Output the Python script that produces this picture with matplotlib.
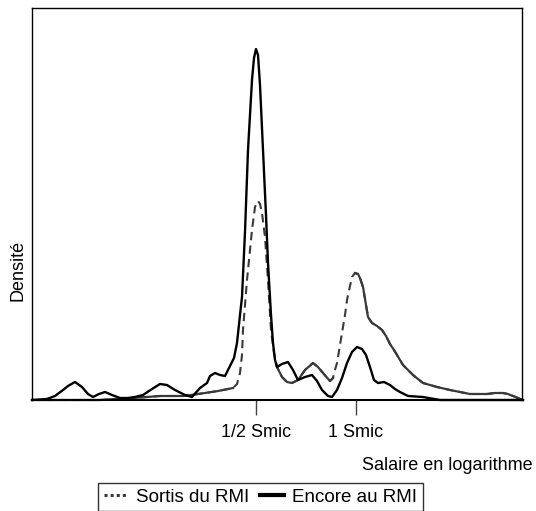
import numpy as np
import matplotlib.pyplot as plt
from matplotlib.lines import Line2D
from matplotlib.ticker import FixedLocator, NullFormatter

plt.rcParams['font.family'] = ['Liberation Sans', 'DejaVu Sans']

# x : log2(salaire / Smic), y : densité (unités arbitraires)
x_encore = [-3.24, -3.09, -3.01, -2.93, -2.88, -2.81, -2.74, -2.68, -2.63, -2.57,
            -2.51, -2.44, -2.36, -2.28, -2.21, -2.13, -2.04, -1.96, -1.89, -1.81,
            -1.71, -1.64, -1.56, -1.49, -1.46, -1.41, -1.36, -1.31, -1.26, -1.22,
            -1.19, -1.16, -1.14, -1.11, -1.08, -1.06, -1.04, -1.02, -1.00, -0.98,
            -0.96, -0.93, -0.90, -0.88, -0.85, -0.83, -0.81, -0.79, -0.74, -0.68,
            -0.63, -0.58, -0.51, -0.44, -0.39, -0.34, -0.28, -0.24, -0.19, -0.14,
            -0.09, -0.04, 0.01, 0.06, 0.10, 0.14, 0.18, 0.22, 0.28, 0.34,
            0.39, 0.44, 0.52, 0.67, 0.84, 1.67]
y_encore = [0.00, 0.01, 0.04, 0.10, 0.14, 0.18, 0.13, 0.06, 0.03, 0.06,
            0.08, 0.05, 0.02, 0.02, 0.03, 0.05, 0.11, 0.16, 0.15, 0.10,
            0.05, 0.03, 0.12, 0.17, 0.24, 0.27, 0.25, 0.24, 0.34, 0.42,
            0.57, 0.85, 1.03, 1.68, 2.50, 2.85, 3.20, 3.42, 3.51, 3.45,
            3.15, 2.50, 1.85, 1.37, 0.85, 0.57, 0.40, 0.33, 0.36, 0.38,
            0.30, 0.20, 0.23, 0.25, 0.19, 0.10, 0.04, 0.03, 0.10, 0.22,
            0.37, 0.48, 0.53, 0.51, 0.45, 0.33, 0.20, 0.17, 0.18, 0.15,
            0.11, 0.08, 0.04, 0.03, 0.00, 0.00]

x_sortis = [-3.24, -2.96, -2.56, -2.41, -2.23, -2.09, -1.96, -1.73, -1.58, -1.51,
            -1.38, -1.28, -1.23, -1.19, -1.16, -1.14, -1.13, -1.11, -1.09, -1.06,
            -1.04, -1.01, -0.98, -0.96, -0.94, -0.91, -0.88, -0.85, -0.82, -0.79,
            -0.74, -0.69, -0.64, -0.58, -0.51, -0.43, -0.38, -0.33, -0.26, -0.23,
            -0.21, -0.19, -0.16, -0.14, -0.11, -0.09, -0.06, -0.04, -0.01, 0.02,
            0.04, 0.07, 0.10, 0.12, 0.16, 0.21, 0.26, 0.30, 0.34, 0.38,
            0.41, 0.47, 0.52, 0.57, 0.62, 0.67, 0.74, 0.81, 0.94, 1.04,
            1.14, 1.31, 1.39, 1.47, 1.52, 1.57, 1.62, 1.67]
y_sortis = [0.00, 0.00, 0.00, 0.01, 0.02, 0.03, 0.04, 0.04, 0.06, 0.07,
            0.09, 0.11, 0.12, 0.16, 0.27, 0.45, 0.70, 0.95, 1.20, 1.50,
            1.70, 1.93, 1.99, 1.96, 1.87, 1.63, 1.20, 0.70, 0.47, 0.33,
            0.23, 0.18, 0.17, 0.20, 0.30, 0.37, 0.33, 0.27, 0.19, 0.22,
            0.30, 0.37, 0.55, 0.67, 0.85, 1.00, 1.14, 1.23, 1.27, 1.26,
            1.22, 1.13, 0.95, 0.83, 0.77, 0.74, 0.70, 0.64, 0.56, 0.50,
            0.45, 0.35, 0.30, 0.25, 0.21, 0.17, 0.15, 0.13, 0.10, 0.08,
            0.06, 0.06, 0.07, 0.07, 0.06, 0.04, 0.02, 0.00]

tick_pos = [-1, 0]
tick_labels = ['1/2 Smic', '1 Smic']

fig = plt.figure(figsize=(5.36, 5.11), dpi=100)
ax = fig.add_axes([32 / 536, 111 / 511, 490 / 536, 392 / 511])

grey = '#3a3a3a'
xs = np.array(x_sortis)
ys = np.array(y_sortis)
# the steep parts of the "Sortis" curve look dashed, the flat parts solid
dashed = np.zeros(len(xs), dtype=bool)
for a, b in [(-1.21, -0.80), (-0.22, -0.02)]:
    dashed |= (xs > a) & (xs < b)

ax.plot(xs, ys, color=grey, lw=1.5, linestyle=(0, (4, 2.5)), clip_on=False)
ax.plot(xs, np.ma.masked_where(dashed, ys), color=grey, lw=1.6, clip_on=False)
ax.plot(x_encore, y_encore, color='black', lw=1.7, clip_on=False)

ax.set_xlim(-3.24, 1.66)
ax.set_ylim(0, 3.92)
ax.set_yticks([])

ax.xaxis.set_major_locator(FixedLocator(tick_pos))
ax.set_xticklabels(tick_labels, fontsize=13)
ax.xaxis.set_minor_locator(FixedLocator(tick_pos))
ax.xaxis.set_minor_formatter(NullFormatter())
ax.tick_params(axis='x', which='major', direction='out', length=11,
               width=1, color='#444444', pad=6)
ax.tick_params(axis='x', which='minor', direction='in', length=16,
               width=1, color='#444444')

for s in ax.spines.values():
    s.set_linewidth(1)
    s.set_color('black')
ax.spines['bottom'].set_linewidth(1.5)

fig.text(533 / 536, 1 - 466 / 511, 'Salaire en logarithme', ha='right',
         va='center', fontsize=13)
fig.text(18 / 536, 1 - 270 / 511, 'Densité', rotation=90, ha='center',
         va='center', fontsize=13)

handles = [Line2D([], [], color=grey, lw=2.2, linestyle=(0, (1, 1))),
           Line2D([], [], color='black', lw=3)]
leg = fig.legend(handles, ['Sortis du RMI', 'Encore au RMI'], ncol=2,
                 loc='upper left', bbox_to_anchor=(98 / 536, 1 - 483 / 511),
                 frameon=True, fancybox=False, edgecolor='black', fontsize=13.5,
                 handlelength=1.3, handletextpad=0.4, columnspacing=0.6,
                 borderpad=0.3, borderaxespad=0)
leg.get_frame().set_linewidth(1)

fig.savefig('out.png', dpi=100)
